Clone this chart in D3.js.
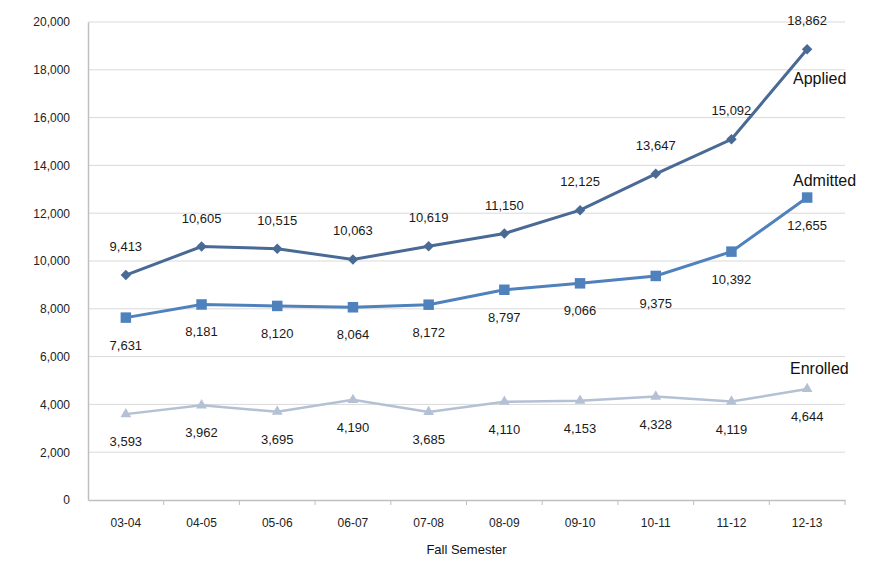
<!DOCTYPE html>
<html>
<head>
<meta charset="utf-8">
<script src="https://cdn.jsdelivr.net/npm/d3@7"></script>
<style>
  body { margin: 0; background: #fff; }
  text { font-family: "Liberation Sans", Arial, sans-serif; }
</style>
</head>
<body>
<script>
// categories and series values
var semesters = ["03-04", "04-05", "05-06", "06-07", "07-08", "08-09", "09-10", "10-11", "11-12", "12-13"];
var applied  = [9413, 10605, 10515, 10063, 10619, 11150, 12125, 13647, 15092, 18862];
var admitted = [7631, 8181, 8120, 8064, 8172, 8797, 9066, 9375, 10392, 12655];
var enrolled = [3593, 3962, 3695, 4190, 3685, 4110, 4153, 4328, 4119, 4644];
var yTicks = [0, 2000, 4000, 6000, 8000, 10000, 12000, 14000, 16000, 18000, 20000];

var width = 888;
var height = 564;
// plot area edges (window.top is reserved, so no "top")
var plotLeft = 88, plotRight = 845, plotTop = 22, plotBottom = 500;

var svg = d3.select("body").append("svg")
    .attr("width", width)
    .attr("height", height);

var x = d3.scaleBand().domain(semesters).range([plotLeft, plotRight]);
var y = d3.scaleLinear().domain([0, 20000]).range([plotBottom, plotTop]);
var fmt = d3.format(",");

// gridlines
svg.append("g")
  .selectAll("line")
  .data(yTicks.slice(1))
  .enter()
  .append("line")
  .attr("x1", plotLeft).attr("x2", plotRight)
  .attr("y1", function(d){ return y(d); })
  .attr("y2", function(d){ return y(d); })
  .attr("stroke", "#d9d9d9")
  .attr("stroke-width", 1);

// y axis
var yAxis = svg.append("g")
  .attr("transform", "translate(" + plotLeft + ",0)")
  .call(d3.axisLeft(y).tickValues(yTicks).tickFormat(fmt).tickSize(0).tickPadding(18));
yAxis.select(".domain").attr("stroke", "#bfbfbf").attr("stroke-width", 1.5);
yAxis.selectAll("text").attr("font-size", 12).attr("fill", "#222");

// x axis, ticks between categories
var xAxis = svg.append("g")
  .attr("transform", "translate(0," + plotBottom + ")")
  .call(d3.axisBottom(x).tickSize(0).tickPadding(18));
xAxis.select(".domain").attr("stroke", "#bfbfbf").attr("stroke-width", 1.5);
xAxis.selectAll("text").attr("font-size", 12).attr("fill", "#222");
xAxis.selectAll(".between")
  .data(semesters)
  .enter()
  .append("line")
  .attr("class", "between")
  .attr("x1", function(d){ return x(d) + x.bandwidth(); })
  .attr("x2", function(d){ return x(d) + x.bandwidth(); })
  .attr("y1", 0).attr("y2", 5)
  .attr("stroke", "#bfbfbf");

svg.append("text")
  .attr("x", (plotLeft + plotRight) / 2)
  .attr("y", 554)
  .attr("text-anchor", "middle")
  .attr("font-size", 13)
  .attr("fill", "#111")
  .text("Fall Semester");

// rot = 45 turns the square into an Excel-like diamond
var series = [
  { name: "Applied",  values: applied,  color: "#4a6a96", width: 3,   shape: d3.symbolSquare,   size: 55,  rot: 45, dy: -24, nameX: 793, nameY: 84 },
  { name: "Admitted", values: admitted, color: "#4f81bd", width: 3,   shape: d3.symbolSquare,   size: 110, rot: 0,  dy: 32,  nameX: 793, nameY: 186 },
  { name: "Enrolled", values: enrolled, color: "#b4c0d4", width: 2.5, shape: d3.symbolTriangle, size: 50,  rot: 0,  dy: 32,  nameX: 790, nameY: 374 }
];

var line = d3.line()
  .x(function(d, i){ return x(semesters[i]) + x.bandwidth() / 2; })
  .y(function(d){ return y(d); });

series.forEach(function(s){
  var g = svg.append("g");
  g.append("path")
    .attr("d", line(s.values))
    .attr("fill", "none")
    .attr("stroke", s.color)
    .attr("stroke-width", s.width);

  g.selectAll("path.marker")
    .data(s.values)
    .enter()
    .append("path")
    .attr("class", "marker")
    .attr("d", d3.symbol().type(s.shape).size(s.size))
    .attr("transform", function(d, i){
      return "translate(" + (x(semesters[i]) + x.bandwidth() / 2) + "," + y(d) + ") rotate(" + s.rot + ")";
    })
    .attr("fill", s.color);

  //data labels
  g.selectAll("text.label")
    .data(s.values)
    .enter()
    .append("text")
    .attr("class", "label")
    .attr("x", function(d, i){ return x(semesters[i]) + x.bandwidth() / 2; })
    .attr("y", function(d){ return y(d) + s.dy; })
    .attr("text-anchor", "middle")
    .attr("font-size", 13)
    .attr("fill", "#1a1a1a")
    .text(function(d){ return fmt(d); });

  g.append("text")
    .attr("x", s.nameX)
    .attr("y", s.nameY)
    .attr("font-size", 16)
    .attr("fill", "#111")
    .text(s.name);
});
</script>
</body>
</html>
